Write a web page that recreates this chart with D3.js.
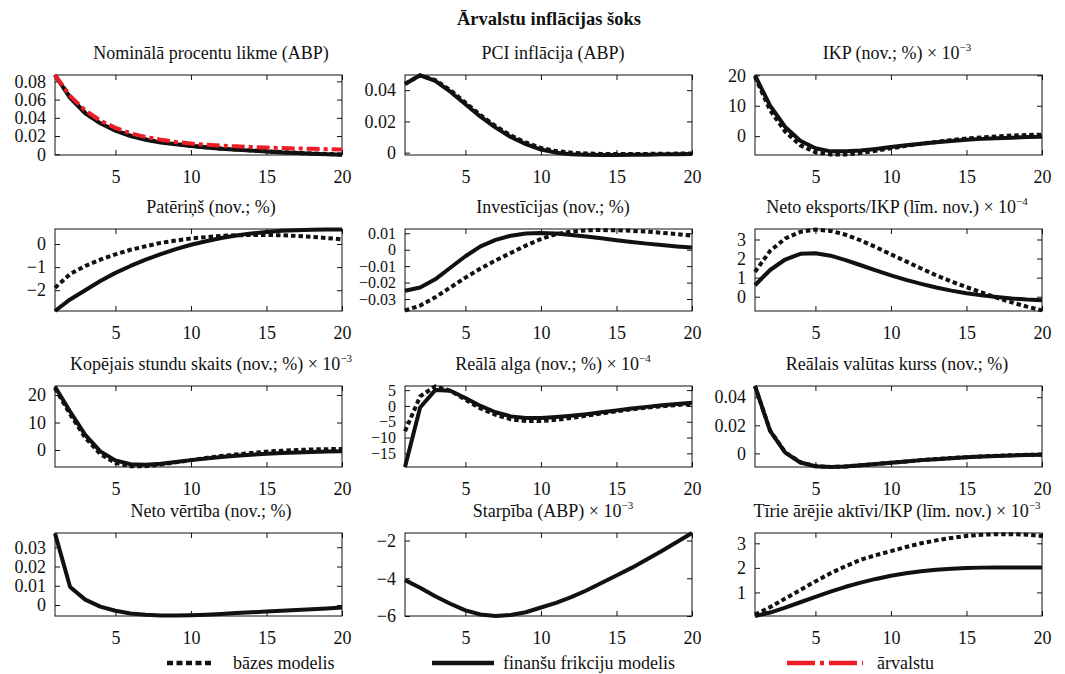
<!DOCTYPE html>
<html><head><meta charset="utf-8">
<script src="https://cdn.jsdelivr.net/npm/d3@7"></script>
<style>
body{margin:0;background:#fff;}
text{font-family:"Liberation Serif","Times New Roman",serif;fill:#111;}
</style></head>
<body>
<svg id="chart" width="1065" height="674"></svg>
<script>
// ---------- DATA ----------
const periods = [1,2,3,4,5,6,7,8,9,10,11,12,13,14,15,16,17,18,19,20];

const mainTitle = "Ārvalstu inflācijas šoks";
const legendLabels = ["bāzes modelis", "finanšu frikciju modelis", "ārvalstu"];

// 1 Nominālā procentu likme
const nomBase = [0.087,0.0625,0.0455,0.0345,0.0265,0.0205,0.0165,0.0135,0.0113,0.0093,0.0078,0.0063,0.0052,0.0042,0.0033,0.0024,0.0016,0.0009,0.0003,-0.0002];
const nomFin  = [0.087,0.062,0.045,0.034,0.026,0.020,0.016,0.013,0.011,0.009,0.0075,0.006,0.005,0.004,0.003,0.002,0.0013,0.0006,0.0,-0.0006];
const nomForeign = [0.087,0.064,0.048,0.037,0.029,0.023,0.019,0.016,0.0135,0.0118,0.0105,0.0095,0.0087,0.008,0.0074,0.0068,0.0064,0.006,0.0056,0.0053];
const nomTicks = [0,0.02,0.04,0.06,0.08];

// 2 PCI inflācija
const pciBase = [0.044,0.0495,0.0465,0.040,0.032,0.024,0.017,0.011,0.0065,0.003,0.001,0.0,-0.0005,-0.0008,-0.0009,-0.0009,-0.0008,-0.0007,-0.0006,-0.0005];
const pciFin  = [0.044,0.0495,0.046,0.039,0.031,0.023,0.016,0.010,0.0055,0.002,0.0,-0.001,-0.0013,-0.0015,-0.0015,-0.0014,-0.0013,-0.0011,-0.001,-0.0008];
const pciTicks = [0,0.02,0.04];

// 3 IKP ×10^-3
const ikpBase = [19.5,8.5,1.5,-3,-5.3,-6,-6,-5.5,-4.8,-4,-3.2,-2.5,-1.9,-1.3,-0.8,-0.4,-0.1,0.2,0.4,0.5];
const ikpFin  = [20,10,3,-1.5,-4,-5,-5,-4.7,-4.2,-3.6,-3.0,-2.5,-2.0,-1.6,-1.2,-0.9,-0.7,-0.5,-0.3,-0.2];
const ikpTicks = [0,10,20];

// 4 Patēriņš
const patBase = [-1.9,-1.3,-0.95,-0.68,-0.45,-0.25,-0.1,0.05,0.15,0.24,0.3,0.35,0.38,0.39,0.39,0.38,0.35,0.31,0.26,0.2];
const patFin  = [-2.9,-2.4,-2.0,-1.6,-1.25,-0.95,-0.68,-0.44,-0.22,-0.03,0.12,0.26,0.37,0.46,0.52,0.57,0.6,0.62,0.63,0.63];
const patTicks = [-2,-1,0];

// 5 Investīcijas
const invBase = [-0.037,-0.034,-0.029,-0.023,-0.017,-0.0115,-0.0065,-0.002,0.0025,0.0065,0.0095,0.011,0.0118,0.012,0.0118,0.0115,0.011,0.0103,0.0095,0.0086];
const invFin  = [-0.025,-0.023,-0.018,-0.011,-0.004,0.002,0.006,0.0085,0.0098,0.0102,0.0098,0.009,0.008,0.007,0.0058,0.0047,0.0037,0.0028,0.002,0.0013];
const invTicks = [-0.03,-0.02,-0.01,0,0.01];

// 6 Neto eksports/IKP ×10^-4
const nxBase = [1.3,2.4,3.05,3.4,3.52,3.45,3.25,2.95,2.6,2.22,1.85,1.48,1.12,0.8,0.5,0.22,-0.05,-0.3,-0.52,-0.72];
const nxFin  = [0.6,1.4,1.95,2.25,2.28,2.15,1.92,1.65,1.38,1.12,0.88,0.67,0.48,0.32,0.18,0.07,-0.02,-0.1,-0.15,-0.18];
const nxTicks = [0,1,2,3];

// 7 Kopējais stundu skaits ×10^-3
const hrsBase = [22.5,13,4.5,-1.5,-4.7,-5.9,-5.9,-5.3,-4.5,-3.7,-2.9,-2.2,-1.6,-1.1,-0.6,-0.3,0,0.2,0.3,0.4];
const hrsFin  = [23,14,5.5,-0.5,-3.8,-5.2,-5.4,-5,-4.4,-3.7,-3.1,-2.6,-2.1,-1.7,-1.4,-1.1,-0.9,-0.7,-0.6,-0.5];
const hrsTicks = [0,10,20];

// 8 Reālā alga ×10^-4
const wageBase = [-8,3,6.2,4.8,2,-0.8,-2.8,-4.2,-4.8,-4.8,-4.4,-3.8,-3.1,-2.4,-1.7,-1.1,-0.5,-0.1,0.3,0.6];
const wageFin  = [-19.3,-0.5,5,4.8,2.5,0,-2,-3.3,-3.8,-3.8,-3.5,-3.1,-2.6,-2.0,-1.4,-0.8,-0.3,0.2,0.6,1.0];
const wageTicks = [-15,-10,-5,0,5];

// 9 Reālais valūtas kurss
const rerBase = [0.048,0.0162,0.0008,-0.0063,-0.0091,-0.0097,-0.0093,-0.0085,-0.0076,-0.0066,-0.0057,-0.0048,-0.004,-0.0033,-0.0027,-0.0022,-0.0017,-0.0013,-0.001,-0.0008];
const rerFin  = [0.048,0.016,0.0005,-0.0065,-0.0092,-0.0097,-0.0093,-0.0085,-0.0076,-0.0066,-0.0057,-0.0048,-0.0041,-0.0034,-0.0028,-0.0023,-0.0019,-0.0015,-0.0012,-0.001];
const rerTicks = [0,0.02,0.04];

// 10 Neto vērtība (only financial frictions model)
const nwFin = [0.0372,0.0094,0.0028,-0.0008,-0.003,-0.0044,-0.0051,-0.0055,-0.0055,-0.0053,-0.005,-0.0046,-0.0042,-0.0038,-0.0034,-0.003,-0.0026,-0.0022,-0.0018,-0.0013];
const nwTicks = [0,0.01,0.02,0.03];

// 11 Starpība ×10^-3 (only financial frictions model)
const spFin = [-4.1,-4.5,-4.95,-5.35,-5.7,-5.92,-6.0,-5.95,-5.8,-5.55,-5.3,-5.0,-4.65,-4.25,-3.85,-3.45,-3.0,-2.55,-2.08,-1.6];
const spTicks = [-6,-4,-2];

// 12 Tīrie ārējie aktīvi/IKP ×10^-3
const nfaBase = [0.1,0.4,0.75,1.1,1.45,1.78,2.07,2.33,2.52,2.68,2.85,3.0,3.12,3.22,3.3,3.35,3.37,3.37,3.35,3.3];
const nfaFin  = [0.04,0.18,0.38,0.6,0.82,1.03,1.23,1.4,1.55,1.68,1.78,1.86,1.92,1.96,1.99,2.01,2.02,2.02,2.02,2.02];
const nfaTicks = [1,2,3];

const xTicks = [5,10,15,20];

// ---------- PANELS ----------
const panels = [
  {title:"Nominālā procentu likme (ABP)", exp:null, dom:[-0.0008,0.087], ticks:nomTicks, base:nomBase, fin:nomFin, foreign:nomForeign},
  {title:"PCI inflācija (ABP)", exp:null, dom:[-0.0015,0.0497], ticks:pciTicks, base:pciBase, fin:pciFin},
  {title:"IKP (nov.; %) × 10", exp:"−3", dom:[-6.2,20.1], ticks:ikpTicks, base:ikpBase, fin:ikpFin},
  {title:"Patēriņš (nov.; %)", exp:null, dom:[-2.9,0.65], ticks:patTicks, base:patBase, fin:patFin},
  {title:"Investīcijas (nov.; %)", exp:null, dom:[-0.0373,0.0126], ticks:invTicks, base:invBase, fin:invFin, tickFont:16},
  {title:"Neto eksports/IKP (līm. nov.) × 10", exp:"−4", dom:[-0.75,3.55], ticks:nxTicks, base:nxBase, fin:nxFin},
  {title:"Kopējais stundu skaits (nov.; %) × 10", exp:"−3", dom:[-6.2,23.3], ticks:hrsTicks, base:hrsBase, fin:hrsFin},
  {title:"Reālā alga (nov.; %) × 10", exp:"−4", dom:[-19.3,6.3], ticks:wageTicks, base:wageBase, fin:wageFin, tickFont:16},
  {title:"Reālais valūtas kurss (nov.; %)", exp:null, dom:[-0.0097,0.048], ticks:rerTicks, base:rerBase, fin:rerFin},
  {title:"Neto vērtība (nov.; %)", exp:null, dom:[-0.0057,0.0374], ticks:nwTicks, base:null, fin:nwFin},
  {title:"Starpība (ABP) × 10", exp:"−3", dom:[-6.0,-1.6], ticks:spTicks, base:null, fin:spFin},
  {title:"Tīrie ārējie aktīvi/IKP (līm. nov.) × 10", exp:"−3", dom:[0.04,3.42], ticks:nfaTicks, base:nfaBase, fin:nfaFin}
];

// ---------- LAYOUT ----------
const colLeft = [55, 405, 755];
const plotW = 287;
const rowTop = [75, 229, 386, 533];
const rowBot = [155, 311, 467, 616];
const titleCx = [211, 553, 897];
const INK = "#111";
const RED = "#ee1c25";

const svg = d3.select("#chart");
const fmt = d => (d < 0 ? "−" : "") + String(Math.abs(d));

svg.append("text").attr("x", 549).attr("y", 25).attr("text-anchor","middle")
  .attr("font-size", 18.5).attr("font-weight","bold").text(mainTitle);

panels.forEach((p, i) => {
  const col = i % 3, row = Math.floor(i / 3);
  const x0 = colLeft[col], y0 = rowTop[row], y1 = rowBot[row];
  const x = d3.scaleLinear().domain([1, 20]).range([x0, x0 + plotW]);
  const y = d3.scaleLinear().domain(p.dom).range([y1, y0]);
  const g = svg.append("g");
  const yFont = p.tickFont || 18;

  const tl = 5;
  g.append("g").attr("transform", `translate(0,${y1})`)
    .call(d3.axisBottom(x).tickValues(xTicks).tickSize(-tl).tickPadding(tl + 10).tickFormat(fmt))
    .call(a => { a.select(".domain").remove(); a.selectAll("text").attr("font-size", 18).attr("font-family","Liberation Serif").attr("fill", INK); a.selectAll("line").attr("stroke", INK); });
  g.append("g").attr("transform", `translate(0,${y0})`)
    .call(d3.axisTop(x).tickValues(xTicks).tickSize(-tl).tickFormat(""))
    .call(a => { a.select(".domain").remove(); a.selectAll("line").attr("stroke", INK); });
  g.append("g").attr("transform", `translate(${x0},0)`)
    .call(d3.axisLeft(y).tickValues(p.ticks).tickSize(-tl).tickPadding(tl + 4).tickFormat(fmt))
    .call(a => { a.select(".domain").remove(); a.selectAll("text").attr("font-size", yFont).attr("font-family","Liberation Serif").attr("fill", INK); a.selectAll("line").attr("stroke", INK); });
  g.append("g").attr("transform", `translate(${x0 + plotW},0)`)
    .call(d3.axisRight(y).tickValues(p.ticks).tickSize(-tl).tickFormat(""))
    .call(a => { a.select(".domain").remove(); a.selectAll("line").attr("stroke", INK); });

  g.append("rect").attr("x", x0).attr("y", y0).attr("width", plotW).attr("height", y1 - y0)
    .attr("fill","none").attr("stroke", INK).attr("stroke-width", 1);

  const line = d3.line().x((d, k) => x(periods[k])).y(d => y(d));
  if (p.base) g.append("path").datum(p.base).attr("d", line).attr("fill","none")
    .attr("stroke", INK).attr("stroke-width", 4).attr("stroke-dasharray","4.5,3");
  g.append("path").datum(p.fin).attr("d", line).attr("fill","none")
    .attr("stroke", INK).attr("stroke-width", 4).attr("stroke-linejoin","round");
  if (p.foreign) g.append("path").datum(p.foreign).attr("d", line).attr("fill","none")
    .attr("stroke", RED).attr("stroke-width", 4).attr("stroke-dasharray","13,4,4,4");

  const t = g.append("text").attr("x", titleCx[col]).attr("y", y0 - 16)
    .attr("text-anchor","middle").attr("font-size", 18).text(p.title);
  if (p.exp) t.append("tspan").attr("dy", -8).attr("font-size", 11).text(p.exp);
});

// ---------- LEGEND ----------
const ly = 663;
const leg = svg.append("g");
leg.append("line").attr("x1",167).attr("x2",214).attr("y1",ly).attr("y2",ly)
  .attr("stroke",INK).attr("stroke-width",4.5).attr("stroke-dasharray","6,3.5");
leg.append("text").attr("x",233).attr("y",ly+6).attr("font-size",18).text(legendLabels[0]);
leg.append("line").attr("x1",432).attr("x2",494).attr("y1",ly).attr("y2",ly)
  .attr("stroke",INK).attr("stroke-width",4.5);
leg.append("text").attr("x",503).attr("y",ly+6).attr("font-size",18).text(legendLabels[1]);
leg.append("line").attr("x1",787).attr("x2",863).attr("y1",ly).attr("y2",ly)
  .attr("stroke",RED).attr("stroke-width",4.5).attr("stroke-dasharray","28,5,4,5");
leg.append("text").attr("x",877).attr("y",ly+6).attr("font-size",18).text(legendLabels[2]);
</script>
</body></html>
